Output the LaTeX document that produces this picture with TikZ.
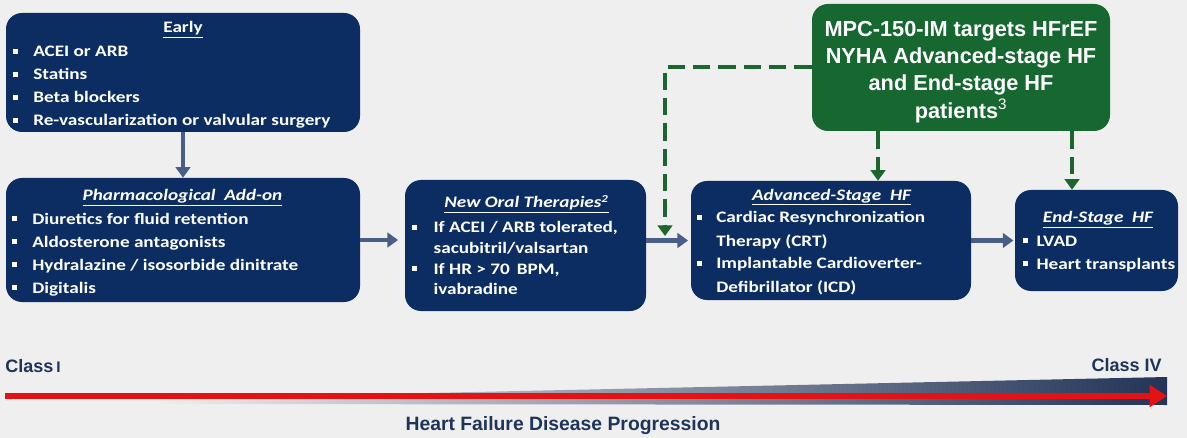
\documentclass[tikz,border=0pt]{standalone}
\usepackage{fontspec}
\setmainfont{Carlito}[FakeStretch=1.2]
\newfontfamily\hd{Liberation Sans}
\usetikzlibrary{arrows.meta}

\definecolor{navy}{RGB}{11,45,98}
\definecolor{conn}{RGB}{72,94,134}
\definecolor{mpcgreen}{RGB}{22,104,48}
\definecolor{dashgreen}{RGB}{26,102,46}
\definecolor{bg}{RGB}{240,239,240}
\definecolor{labelnavy}{RGB}{30,52,88}
\definecolor{redline}{RGB}{228,18,18}
\definecolor{wedge}{RGB}{35,52,88}

% square bullet and a hanging-indent list item (use \newline inside for wrapped lines)
\newcommand\sqb{\rule[2.5pt]{3.4pt}{3.4pt}}
\newcommand\itm[2]{\par\noindent\hangindent=#1\hangafter=1\makebox[#1][l]{\sqb}#2}

\begin{document}
\begin{tikzpicture}[x=0.75pt,y=-0.75pt,
  box/.style={fill=navy, rounded corners=12pt, inner sep=0pt},
  ttl/.style={text=white, font=\fontsize{12}{14}\selectfont\bfseries, anchor=base, inner sep=0pt},
  lst/.style={text=white, font=\fontsize{12}{17.25}\selectfont\bfseries, anchor=base west, inner sep=0pt},
  flow/.style={draw=conn, line width=3.5pt, -{Triangle[width=11pt,length=8pt]}},
  promo/.style={draw=dashgreen, line width=3pt, dash pattern=on 13pt off 6pt, -{Triangle[width=11pt,length=8pt]}},
  cls/.style={text=labelnavy, inner sep=0pt, font=\hd\fontsize{13.5}{16}\selectfont\bfseries}
]
\useasboundingbox[fill=bg] (0,0) rectangle (1187,438);

% stage boxes
\node[box, minimum width=265.5pt, minimum height=89.25pt] (early) at (183,72.5) {};
\node[box, minimum width=265.5pt, minimum height=93pt] (pharma) at (183,240) {};
\node[box, minimum width=180.75pt, minimum height=98.25pt] (oral) at (525.5,245.5) {};
\node[box, minimum width=210pt, minimum height=89.25pt] (adv) at (831,240.5) {};
\node[box, minimum width=122.25pt, minimum height=75.75pt] (end) at (1096.5,240.5) {};

% titles
\node[ttl] (earlyT) at (183,33) {\underline{Early}};
\node[ttl] (pharmaT) at (182.5,201) {\underline{\itshape Pharmacological\ \ Add-on}};
\node[ttl] (oralT) at (526.5,208) {\underline{\itshape New Oral Therapies\textsuperscript{2}}};
\node[ttl] (advT) at (831.5,200) {\underline{\itshape Advanced-Stage\ \ HF}};
\node[ttl] (endT) at (1098,223) {\underline{\itshape End-Stage\ \ HF}};

% bullet lists
\node[lst] (earlyL) at (13,57) {\parbox[t]{330pt}{\raggedright
  \itm{15pt}{ACEI or ARB}
  \itm{15pt}{Statins}
  \itm{15pt}{Beta blockers}
  \itm{15pt}{Re-vascularization or valvular surgery}}};
\node[lst] (pharmaL) at (12,224) {\parbox[t]{330pt}{\raggedright
  \itm{15pt}{Diuretics for fluid retention}
  \itm{15pt}{Aldosterone antagonists}
  \itm{15pt}{Hydralazine / isosorbide dinitrate}
  \itm{15pt}{Digitalis}}};
\node[lst, font=\fontsize{12}{15.4}\selectfont\bfseries] (oralL) at (412,233) {\parbox[t]{330pt}{\raggedright
  \itm{16pt}{If ACEI / ARB tolerated,\newline sacubitril/valsartan}
  \itm{16pt}{If HR > 70\, BPM,\newline ivabradine}}};
\node[lst] (advL) at (697,223) {\parbox[t]{330pt}{\raggedright
  \itm{14.25pt}{Cardiac Resynchronization\newline Therapy (CRT)}
  \itm{14.25pt}{Implantable Cardioverter-\newline Defibrillator (ICD)}}};
\node[lst] (endL) at (1023,246) {\parbox[t]{200pt}{\raggedright
  \itm{10pt}{LVAD}
  \itm{10pt}{Heart transplants}}};

% target group
\node[box, fill=mpcgreen, minimum width=223.5pt, minimum height=95.25pt] (mpc) at (961,67.5) {};
\node[text=white, align=center, inner sep=0pt, font=\hd\fontsize{16.3}{20.5}\selectfont\bfseries]
  (mpcT) at (961,72) {MPC-150-IM targets HFrEF\\NYHA Advanced-stage HF\\and End-stage HF\\patients\textsuperscript{\mdseries 3}};

% progression between stages
\draw[flow] (early.south) -- (pharma.north);
\draw[flow, shorten >=5pt] (pharma.east) -- (oral.west |- pharma.east);
\draw[flow, shorten >=2pt] (adv.west -| oral.east) -- (adv.west);
\draw[flow, shorten >=1pt] (adv.east) -- (end.west);

% dashed pointers from the target group
\coordinate (drop) at (665,236);
\draw[promo] (mpc.west) -| (drop);
\draw[promo] (mpc.south -| 878,0) -- (adv.north -| 878,0);
\draw[promo] (mpc.south -| 1072,0) -- (end.north -| 1072,0);

% disease progression axis
\shade[left color=bg, right color=wedge] (150,399) -- (1167,377) -- (1167,405) -- (150,404) -- cycle;
\coordinate (axL) at (5,396);
\coordinate (axR) at (1167,396);
\draw[redline, line width=4.5pt, -{Triangle[width=16pt,length=13pt]}] (axL) -- (axR);

\node[cls, anchor=base west] (c1) at (5,372) {Class\,{\fontsize{11.5}{13}\selectfont I}};
\node[cls, anchor=base east] (c4) at (1162,371) {Class IV};
\node[cls, anchor=base, font=\hd\fontsize{14.5}{17}\selectfont\bfseries] (prog) at (563,430) {Heart Failure Disease Progression};
\end{tikzpicture}
\end{document}
